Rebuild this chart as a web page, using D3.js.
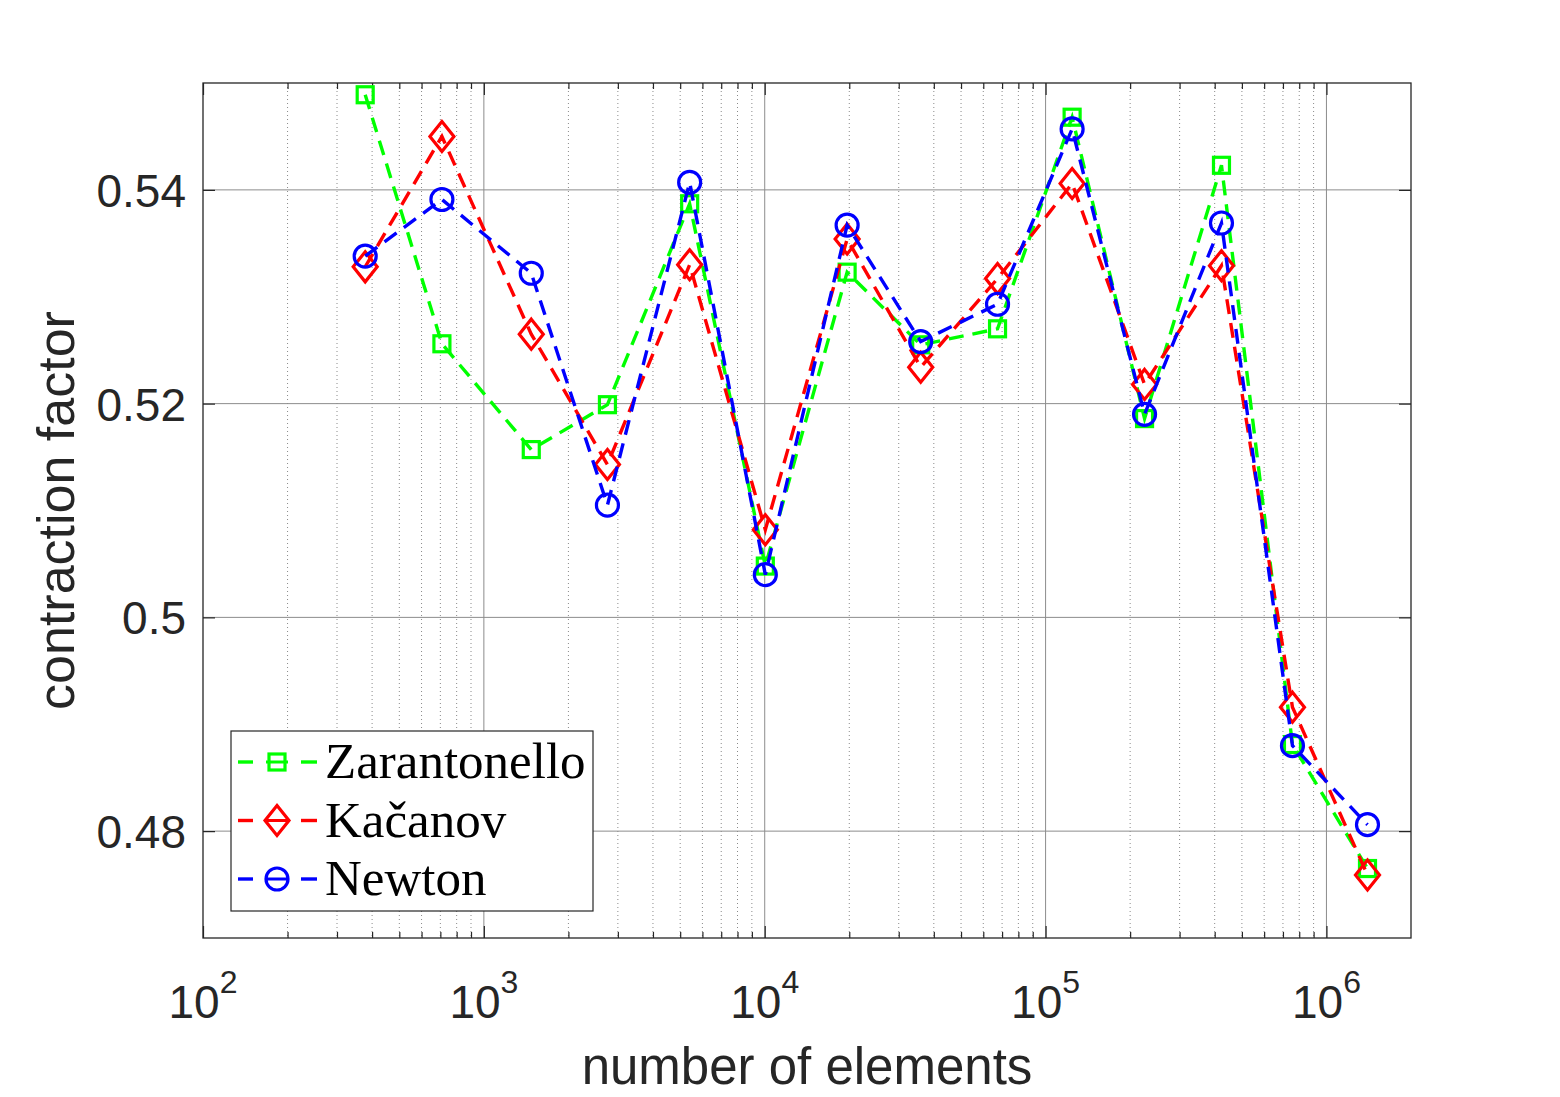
<!DOCTYPE html>
<html>
<head>
<meta charset="utf-8">
<script src="https://cdn.jsdelivr.net/npm/d3@7"></script>
<style>
  body { margin: 0; background: #fff; }
  svg { display: block; }
</style>
</head>
<body>
<script>
// number of elements per refinement step
const elements = [378, 709, 1475, 2754, 5404, 10049, 19650, 35920, 67440, 124300, 225100, 422900, 756800, 1400000]

// contraction factors
const zarantonello = [0.5489, 0.5256, 0.5157, 0.5199, 0.5387, 0.5048, 0.5323, 0.5255, 0.5270, 0.5468, 0.5186, 0.5423, 0.4881, 0.4765]
const kacanov      = [0.5328, 0.5450, 0.5265, 0.5143, 0.5330, 0.5082, 0.5354, 0.5234, 0.5317, 0.5406, 0.5218, 0.5329, 0.4916, 0.4759]
const newton       = [0.5338, 0.5391, 0.5322, 0.5105, 0.5407, 0.5040, 0.5367, 0.5258, 0.5293, 0.5457, 0.5190, 0.5369, 0.4880, 0.4806]

const seriesNames = ['Zarantonello', 'Kačanov', 'Newton']
const yTicks = [0.48, 0.50, 0.52, 0.54]
const xDecades = [2, 3, 4, 5, 6]

const W = 1560, H = 1097
const pLeft = 203, pRight = 1411, pTop = 83, pBottom = 938

const svg = d3.select('body').append('svg')
    .attr('width', W)
    .attr('height', H)

const x = d3.scaleLog().domain([100, 2e6]).range([pLeft, pRight])
const y = d3.scaleLinear().domain([0.47, 0.55]).range([pBottom, pTop])

const series = [
    { name: seriesNames[0], values: zarantonello, color: '#00ff00', marker: 'square' },
    { name: seriesNames[1], values: kacanov, color: '#ff0000', marker: 'diamond' },
    { name: seriesNames[2], values: newton, color: '#0000ff', marker: 'circle' }
]

// minor grid (x only)
const minor = []
for (let k = 2; k <= 6; k++) {
    for (let m = 2; m <= 9; m++) {
        const v = m * Math.pow(10, k)
        if (v < 2e6) minor.push(v)
    }
}
const grid = svg.append('g')
grid.selectAll('.minor')
    .data(minor)
    .enter()
    .append('line')
    .attr('x1', d => x(d)).attr('x2', d => x(d))
    .attr('y1', pTop).attr('y2', pBottom)
    .style('stroke', '#8a8a8a')
    .style('stroke-width', 1)
    .style('stroke-dasharray', '1,3')

// major grid
grid.selectAll('.majx')
    .data(xDecades.slice(1))
    .enter()
    .append('line')
    .attr('x1', d => x(Math.pow(10, d))).attr('x2', d => x(Math.pow(10, d)))
    .attr('y1', pTop).attr('y2', pBottom)
    .style('stroke', '#8c8c8c')
    .style('stroke-width', 1)
grid.selectAll('.majy')
    .data(yTicks)
    .enter()
    .append('line')
    .attr('x1', pLeft).attr('x2', pRight)
    .attr('y1', d => y(d)).attr('y2', d => y(d))
    .style('stroke', '#8c8c8c')
    .style('stroke-width', 1)

// axes box + ticks
const axisColor = '#262626'
const xTickVals = xDecades.map(d => Math.pow(10, d))

const xb = svg.append('g').attr('transform', `translate(0,${pBottom})`)
    .call(d3.axisBottom(x).tickValues(xTickVals).tickSize(-12).tickFormat(''))
const xt = svg.append('g').attr('transform', `translate(0,${pTop})`)
    .call(d3.axisTop(x).tickValues(xTickVals).tickSize(-12).tickFormat(''))
const xbm = svg.append('g').attr('transform', `translate(0,${pBottom})`)
    .call(d3.axisBottom(x).tickValues(minor).tickSize(-6).tickFormat(''))
const xtm = svg.append('g').attr('transform', `translate(0,${pTop})`)
    .call(d3.axisTop(x).tickValues(minor).tickSize(-6).tickFormat(''))
const yl = svg.append('g').attr('transform', `translate(${pLeft},0)`)
    .call(d3.axisLeft(y).tickValues(yTicks).tickSize(-12).tickFormat(''))
const yr = svg.append('g').attr('transform', `translate(${pRight},0)`)
    .call(d3.axisRight(y).tickValues(yTicks).tickSize(-12).tickFormat(''))

;[xb, xt, xbm, xtm, yl, yr].forEach(g => {
    g.selectAll('path').remove()
    g.selectAll('line').style('stroke', axisColor).style('stroke-width', 1.2)
})

svg.append('rect')
    .attr('x', pLeft).attr('y', pTop)
    .attr('width', pRight - pLeft).attr('height', pBottom - pTop)
    .style('fill', 'none')
    .style('stroke', axisColor)
    .style('stroke-width', 1.3)

// tick labels
const font = "'Liberation Sans', Arial, Helvetica, sans-serif"
svg.selectAll('.ylab')
    .data(yTicks)
    .enter()
    .append('text')
    .attr('x', 186)
    .attr('y', d => y(d) + 17)
    .attr('text-anchor', 'end')
    .style('font-family', font)
    .style('font-size', '46px')
    .style('fill', axisColor)
    .text(d => String(+d.toFixed(2)))

const xl = svg.selectAll('.xlab')
    .data(xDecades)
    .enter()
    .append('text')
    .attr('x', d => x(Math.pow(10, d)))
    .attr('y', 1018)
    .attr('text-anchor', 'middle')
    .style('font-family', font)
    .style('font-size', '46px')
    .style('fill', axisColor)
xl.append('tspan').text('10')
xl.append('tspan')
    .attr('dy', -25)
    .style('font-size', '32px')
    .text(d => d)

// axis titles
svg.append('text')
    .attr('x', (pLeft + pRight) / 2)
    .attr('y', 1084)
    .attr('text-anchor', 'middle')
    .style('font-family', font)
    .style('font-size', '51px')
    .style('fill', axisColor)
    .text('number of elements')

svg.append('text')
    .attr('transform', `translate(74,${(pTop + pBottom) / 2}) rotate(-90)`)
    .attr('text-anchor', 'middle')
    .style('font-family', font)
    .style('font-size', '52px')
    .style('fill', axisColor)
    .text('contraction factor')

// markers
function drawMarker(g, type, cx, cy, color) {
    if (type === 'square') {
        g.append('rect')
            .attr('x', cx - 8).attr('y', cy - 8)
            .attr('width', 16).attr('height', 16)
            .style('fill', 'none').style('stroke', color).style('stroke-width', 3.2)
    } else if (type === 'diamond') {
        g.append('path')
            .attr('d', `M${cx},${cy - 15}L${cx + 12},${cy}L${cx},${cy + 15}L${cx - 12},${cy}Z`)
            .style('fill', 'none').style('stroke', color).style('stroke-width', 3.2)
    } else {
        g.append('circle')
            .attr('cx', cx).attr('cy', cy).attr('r', 11)
            .style('fill', 'none').style('stroke', color).style('stroke-width', 3.2)
    }
}

const line = d3.line()
    .x(d => x(d[0]))
    .y(d => y(d[1]))

series.forEach(s => {
    const pts = elements.map((e, i) => [e, s.values[i]])
    const g = svg.append('g')
    g.append('path')
        .datum(pts)
        .attr('d', line)
        .style('fill', 'none')
        .style('stroke', s.color)
        .style('stroke-width', 3.4)
        .style('stroke-dasharray', '15,9')
    pts.forEach(p => drawMarker(g, s.marker, x(p[0]), y(p[1]), s.color))
})

// legend
const legend = svg.append('g')
legend.append('rect')
    .attr('x', 231).attr('y', 731)
    .attr('width', 362).attr('height', 180)
    .style('fill', '#fff')
    .style('stroke', axisColor)
    .style('stroke-width', 1.2)

series.forEach((s, i) => {
    const cy = 762 + i * 58.5
    const g = legend.append('g')
    g.append('line')
        .attr('x1', 238).attr('x2', 253)
        .attr('y1', cy).attr('y2', cy)
        .style('stroke', s.color)
        .style('stroke-width', 3.4)
    g.append('line')
        .attr('x1', 301).attr('x2', 317)
        .attr('y1', cy).attr('y2', cy)
        .style('stroke', s.color)
        .style('stroke-width', 3.4)
    g.append('line')
        .attr('x1', 266).attr('x2', 288)
        .attr('y1', cy).attr('y2', cy)
        .style('stroke', s.color)
        .style('stroke-width', 3)
    drawMarker(g, s.marker, 277, cy, s.color)
    g.append('text')
        .attr('x', 325)
        .attr('y', cy + 16)
        .style('font-family', "'Liberation Serif', 'Times New Roman', serif")
        .style('font-size', '51px')
        .style('fill', '#000')
        .text(s.name)
})
</script>
</body>
</html>
